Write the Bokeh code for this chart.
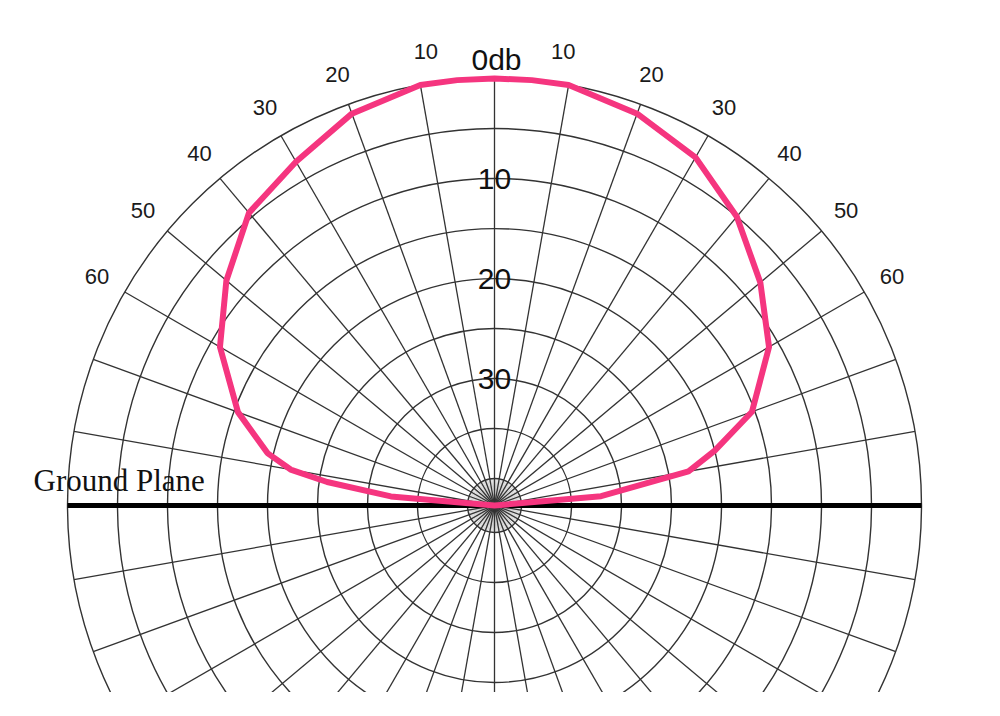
import numpy as np
from bokeh.plotting import figure
from bokeh.models import Range1d
from bokeh.core.properties import value
from bokeh.embed import file_html
from bokeh.resources import INLINE

# ---- data ----
ring_db = [0, 5, 10, 15, 20, 25, 30, 35, 40]          # dB rings
ring_labels = ["10", "20", "30"]
ring_label_db = [10, 20, 30]
angle_ticks = [10, 20, 30, 40, 50, 60]                  # degrees off boresight
angle_tick_labels = ["10", "20", "30", "40", "50", "60"]
spoke_step = 10
# pattern: angle (deg, negative = left) and attenuation (dB below 0db)
pattern_angle = [-90, -85, -82, -80, -77, -70, -60, -50, -40, -30, -20, -10, -5, 0,
                 5, 10, 20, 30, 40, 50, 60, 70, 76, 80, 85, 90]
pattern_db = [42.7, 32.3, 25.8, 22.0, 19.4, 15.4, 11.0, 7.7, 4.5, 3.0, 1.0, 0.0, 0.0, 0.0,
              0.0, 0.0, 1.0, 2.5, 5.0, 8.0, 11.0, 15.3, 20.0, 23.0, 32.0, 42.7]

R0 = 42.7  # radius of 0 dB circle (chart units, 1 unit = 1 dB); centre = deepest null

def to_r(db):
    return np.maximum(R0 - np.asarray(db, dtype=float), 0.0)

p = figure(width=984, height=692, output_backend="svg", toolbar_location=None,
           x_range=Range1d(-49.4, 49.0), y_range=Range1d(-18.7, 50.5),
           min_border=0, background_fill_color="white", border_fill_color="white")
p.axis.visible = False
p.grid.visible = False
p.outline_line_color = None

grid_col = "#333333"

# dense inner spokes
inner_r = float(to_r(40))
fine = np.arange(0, 360, 3)
p.multi_line(xs=[[0, inner_r * np.sin(np.radians(a))] for a in fine],
             ys=[[0, inner_r * np.cos(np.radians(a))] for a in fine],
             line_color="#b4b4b4", line_width=0.6)

# spokes
spokes = np.arange(0, 360, spoke_step)
p.multi_line(xs=[[0, R0 * np.sin(np.radians(a))] for a in spokes],
             ys=[[0, R0 * np.cos(np.radians(a))] for a in spokes],
             line_color=grid_col, line_width=1.3)

# rings
p.circle(x=[0] * len(ring_db), y=[0] * len(ring_db), radius=list(to_r(ring_db)),
         fill_color=None, line_color=grid_col, line_width=1.4)

# ground plane
p.line(x=[-R0, R0], y=[0, 0], line_color="black", line_width=5)
p.text(x=[-46.1], y=[0.75], text=["Ground Plane"], text_font=value("Liberation Serif"),
       text_font_size="31px", text_color="#111111", text_baseline="bottom", text_align="left")

# pattern curve
th = np.radians(pattern_angle)
rr = to_r(pattern_db)
p.line(x=rr * np.sin(th), y=rr * np.cos(th), line_color="#F5357F", line_width=6,
       line_join="round", line_cap="round")

# ring labels
p.text(x=[0] * len(ring_labels), y=list(to_r(ring_label_db)), text=ring_labels,
       text_font=value("Liberation Sans"), text_font_size="30px", text_color="#111111",
       text_align="center", text_baseline="middle")

# 0db label
p.text(x=[0.2], y=[R0 + 1.95], text=["0db"], text_font=value("Liberation Sans"),
       text_font_size="30px", text_color="#111111", text_align="center", text_baseline="middle")

# angle labels (both sides)
lab_r = 45.9
lx, ly, lt = [], [], []
for a, t in zip(angle_ticks, angle_tick_labels):
    aa = a - 1.4 if a == 10 else a
    for s in (-1, 1):
        lx.append(s * lab_r * np.sin(np.radians(aa)))
        ly.append(lab_r * np.cos(np.radians(aa)))
        lt.append(t)
p.text(x=lx, y=ly, text=lt, text_font=value("Liberation Sans"), text_font_size="22px",
       text_color="#1a1a1a", text_align="center", text_baseline="middle")

open("out.html", "w").write(file_html(p, INLINE))
